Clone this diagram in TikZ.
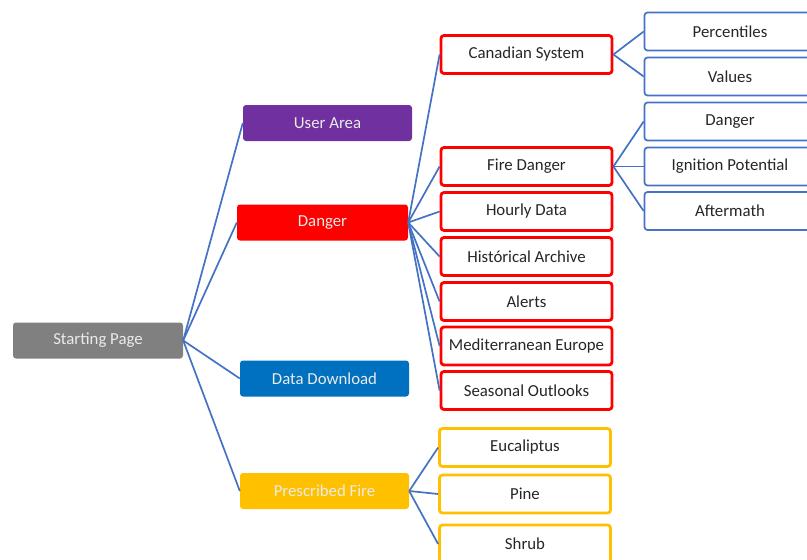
\documentclass[tikz,border=0pt]{standalone}
\usepackage{fontspec}
\setmainfont{Carlito}
\definecolor{lgray}{HTML}{808080}
\definecolor{lpurple}{HTML}{7030A0}
\definecolor{lred}{HTML}{FF0000}
\definecolor{lblue}{HTML}{0070C0}
\definecolor{lgold}{HTML}{FFC000}
\definecolor{lline}{HTML}{4472C4}
\definecolor{ltext}{HTML}{262626}
\begin{document}
\begin{tikzpicture}[x=1pt,y=-1pt,
  box/.style={rounded corners=3pt, minimum height=#1, inner sep=0pt, font=\fontsize{16.8}{17}\selectfont},
  solidbox/.style={box=36pt, fill=#1, text=white!92!black, minimum width=170pt},
  outbox/.style={box=38pt, draw=#1, line width=2.8pt, fill=white, text=ltext, minimum width=171pt},
  bluebox/.style={box=38pt, draw=lline, line width=1.7pt, fill=white, text=ltext, minimum width=171pt},
  link/.style={draw=lline, line width=1.7pt}]
\useasboundingbox (0,0) rectangle (807,560);
\clip (0,0) rectangle (807,560);
% level 0
\node[solidbox=lgray] (start) at (98,340.5) {Starting Page};
% level 1
\node[solidbox=lpurple, minimum width=169pt] (user) at (327.5,123) {User Area};
\node[solidbox=lred, minimum width=171pt] (danger) at (322.5,222.5) {Danger};
\node[solidbox=lblue, minimum width=169pt] (dl) at (324.5,378.5) {Data Download};
\node[solidbox=lgold, minimum width=169pt] (pf) at (324.5,491) {Prescribed Fire};
% level 2 red
\node[outbox=lred] (can) at (526.5,54.5) {Canadian System};
\node[outbox=lred] (fd) at (526.5,166.5) {Fire Danger};
\node[outbox=lred] (hd) at (526.5,211.5) {Hourly Data};
\node[outbox=lred] (ha) at (526.5,256.5) {Histórical Archive};
\node[outbox=lred] (al) at (526.5,301.5) {Alerts};
\node[outbox=lred] (me) at (526.5,346) {Mediterranean Europe};
\node[outbox=lred] (so) at (526.5,390.5) {Seasonal Outlooks};
% level 2 gold
\node[outbox=lgold] (eu) at (525,447.5) {Eucaliptus};
\node[outbox=lgold] (pi) at (525,494) {Pine};
\node[outbox=lgold] (sh) at (525,544) {Shrub};
% level 3 blue
\node[bluebox] (pc) at (730,31.5) {Percentiles};
\node[bluebox] (va) at (730,76.5) {Values};
\node[bluebox] (dg) at (730,121.5) {Danger};
\node[bluebox] (ig) at (730,166.5) {Ignition Potential};
\node[bluebox] (af) at (730,211) {Aftermath};
% links
\foreach \t in {user,danger,dl,pf} \path[link] (start.east) -- (\t.west);
\foreach \t in {can,fd,hd,ha,al,me,so} \path[link] (danger.east) -- (\t.west);
\foreach \t in {eu,pi,sh} \path[link] (pf.east) -- (\t.west);
\foreach \t in {pc,va} \path[link] (can.east) -- (\t.west);
\foreach \t in {dg,ig,af} \path[link] (fd.east) -- (\t.west);
\end{tikzpicture}
\end{document}
